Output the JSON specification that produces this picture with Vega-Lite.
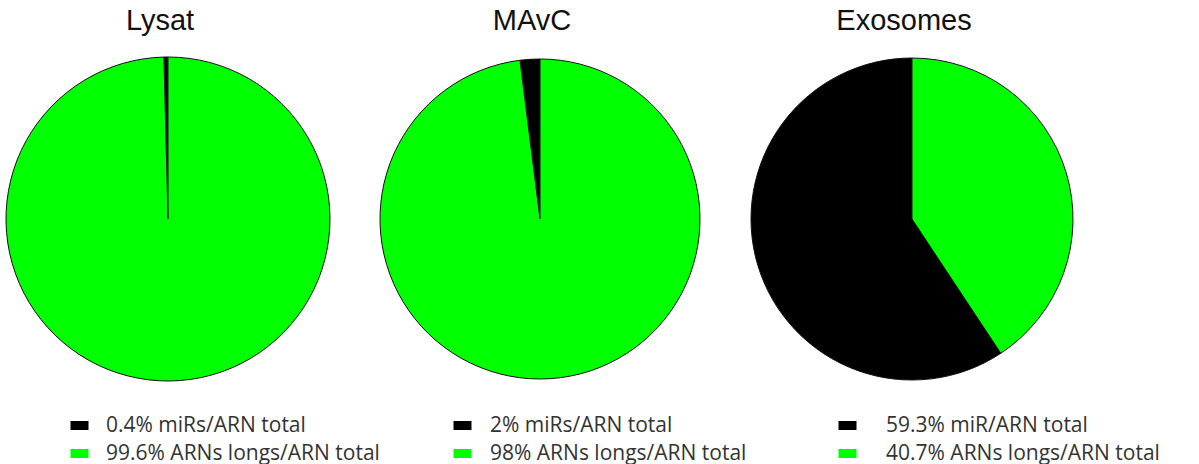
{
  "$schema": "https://vega.github.io/schema/vega-lite/v6.json",
  "padding": {"left": 0, "top": 7, "right": 0, "bottom": 0},
  "background": "white",
  "spacing": 36,
  "bounds": "flush",
  "datasets": {
    "pies": [
      {"group": "Lysat", "label": "0.4% miRs/ARN total", "value": 0.4, "ord": 2},
      {"group": "Lysat", "label": "99.6% ARNs longs/ARN total", "value": 99.6, "ord": 1},
      {"group": "MAvC", "label": "2% miRs/ARN total", "value": 2, "ord": 2},
      {"group": "MAvC", "label": "98% ARNs longs/ARN total", "value": 98, "ord": 1},
      {"group": "Exosomes", "label": "59.3% miR/ARN total", "value": 59.3, "ord": 2},
      {"group": "Exosomes", "label": "40.7% ARNs longs/ARN total", "value": 40.7, "ord": 1}
    ]
  },
  "config": {
    "view": {"stroke": null},
    "title": {"font": "Liberation Sans", "fontSize": 29, "fontWeight": "normal", "color": "#111111", "offset": 18, "dx": -8},
    "legend": {
      "orient": "none",
      "legendY": 361,
      "title": null,
      "labelFont": "Open Sans",
      "labelFontSize": 21,
      "labelColor": "#333333",
      "labelLimit": 500,
      "symbolType": "M-1,-0.5H1V0.5H-1Z",
      "symbolSize": 324,
      "symbolStrokeWidth": 0,
      "rowPadding": 6
    }
  },
  "data": {"name": "pies"},
  "hconcat": [
    {
      "title": "Lysat",
      "width": 336, "height": 330,
      "transform": [{"filter": "datum.group === 'Lysat'"}],
      "mark": {"type": "arc", "radius": 162, "stroke": "#111111", "strokeWidth": 1},
      "encoding": {
        "theta": {"field": "value", "type": "quantitative", "stack": true},
        "order": {"field": "ord", "type": "quantitative"},
        "color": {"field": "label", "type": "nominal",
          "scale": {"domain": ["0.4% miRs/ARN total", "99.6% ARNs longs/ARN total"], "range": ["#000000", "#00ff00"]},
          "legend": {"legendX": 69, "labelOffset": 16}}
      }
    },
    {
      "title": "MAvC",
      "width": 336, "height": 330,
      "transform": [{"filter": "datum.group === 'MAvC'"}],
      "mark": {"type": "arc", "radius": 160, "stroke": "#111111", "strokeWidth": 1},
      "encoding": {
        "theta": {"field": "value", "type": "quantitative", "stack": true},
        "order": {"field": "ord", "type": "quantitative"},
        "color": {"field": "label", "type": "nominal",
          "scale": {"domain": ["2% miRs/ARN total", "98% ARNs longs/ARN total"], "range": ["#000000", "#00ff00"]},
          "legend": {"legendX": 80, "labelOffset": 17}}
      }
    },
    {
      "title": "Exosomes",
      "width": 336, "height": 330,
      "transform": [{"filter": "datum.group === 'Exosomes'"}],
      "mark": {"type": "arc", "radius": 161, "stroke": "#111111", "strokeWidth": 1},
      "encoding": {
        "theta": {"field": "value", "type": "quantitative", "stack": true},
        "order": {"field": "ord", "type": "quantitative"},
        "color": {"field": "label", "type": "nominal",
          "scale": {"domain": ["59.3% miR/ARN total", "40.7% ARNs longs/ARN total"], "range": ["#000000", "#00ff00"]},
          "legend": {"legendX": 93, "labelOffset": 28}}
      }
    }
  ],
  "resolve": {"scale": {"color": "independent", "theta": "independent"}, "legend": {"color": "independent"}}
}
